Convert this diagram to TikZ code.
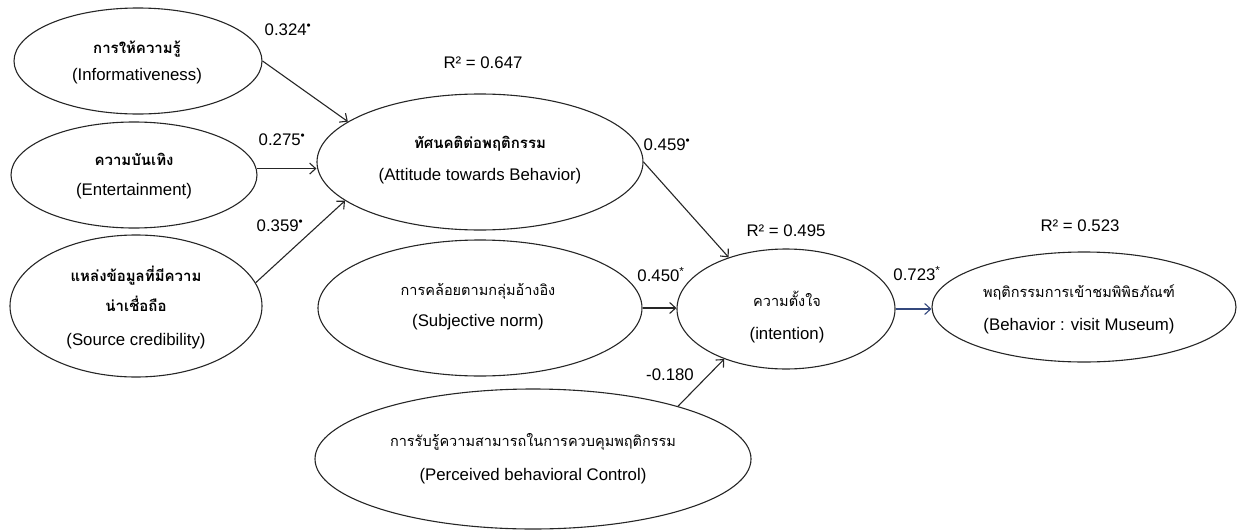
\documentclass[tikz,border=0pt]{standalone}
\usepackage{fontspec}
\setmainfont{Liberation Sans}
\newfontfamily\thaifont[Script=Thai]{Loma}
\usetikzlibrary{shapes.geometric,arrows.meta}
\definecolor{navy}{RGB}{52,72,125}
\begin{document}
\begin{tikzpicture}[x=1pt,y=-1pt,
  ell/.style={ellipse,draw=black!85,line width=1.1pt,inner sep=0pt},
  arr/.style={-{Straight Barb[length=6pt,width=11pt,line width=1.1pt]},line width=1.1pt,draw=black!85},
  txt/.style={inner sep=0pt,text height=11pt,text depth=4pt},
  en/.style={txt,font=\fontsize{16.8}{19}\selectfont},
  th/.style={txt,font=\fontsize{14.5}{18}\selectfont\thaifont},
  thb/.style={txt,font=\fontsize{15}{18}\selectfont\thaifont\bfseries},
  lab/.style={txt,font=\fontsize{16.8}{19}\selectfont}]
\useasboundingbox (0,0) rectangle (1237,530);

% ellipses
\node[ell,minimum width=248pt,minimum height=106pt] (info) at (138,61) {};
\node[ell,minimum width=246pt,minimum height=106pt] (ent) at (134,175) {};
\node[ell,minimum width=252pt,minimum height=142pt] (src) at (136,306) {};
\node[ell,minimum width=326pt,minimum height=136pt] (att) at (480,162) {};
\node[ell,minimum width=324pt,minimum height=136pt] (sub) at (480,308) {};
\node[ell,minimum width=436pt,minimum height=140pt] (pbc) at (533,459) {};
\node[ell,minimum width=218pt,minimum height=120pt] (int) at (786,309) {};
\node[ell,minimum width=304pt,minimum height=110pt] (beh) at (1084,307) {};

% texts
\node[thb] (infoT) at (137,50) {การให้ความรู้};
\node[en] (infoE) at (137,77) {(Informativeness)};
\node[thb] (entT) at (134,162) {ความบันเทิง};
\node[en] (entE) at (134,192) {(Entertainment)};
\node[thb] (srcT1) at (136,278) {แหล่งข้อมูลที่มีความ};
\node[thb] (srcT2) at (136,308) {น่าเชื่อถือ};
\node[en] (srcE) at (136,342) {(Source credibility)};
\node[thb] (attT) at (480,145) {ทัศนคติต่อพฤติกรรม};
\node[en] (attE) at (480,177) {(Attitude towards Behavior)};
\node[th] (subT) at (478,292) {การคล้อยตามกลุ่มอ้างอิง};
\node[en] (subE) at (478,323) {(Subjective norm)};
\node[th] (pbcT) at (533,443) {การรับรู้ความสามารถในการควบคุมพฤติกรรม};
\node[en] (pbcE) at (533,477) {(Perceived behavioral Control)};
\node[th] (intT) at (787,303) {ความตั้งใจ};
\node[en] (intE) at (787,336) {(intention)};
\node[th] (behT) at (1079,294) {พฤติกรรมการเข้าชมพิพิธภัณฑ์};
\node[en] (behE) at (1079,327) {(Behavior : visit Museum)};

% labels
\node[lab] (l1) at (288,32) {0.324\textsuperscript{•}};
\node[lab] (l2) at (282,142) {0.275\textsuperscript{•}};
\node[lab] (l3) at (280,228) {0.359\textsuperscript{•}};
\node[lab] (r1) at (483,65) {R² = 0.647};
\node[lab] (l4) at (667,147) {0.459\textsuperscript{•}};
\node[lab] (r2) at (786,233) {R² = 0.495};
\node[lab] (r3) at (1080,228) {R² = 0.523};
\node[lab] (l5) at (661,278) {0.450\textsuperscript{*}};
\node[lab] (l6) at (917,277) {0.723\textsuperscript{*}};
\node[lab] (l7) at (670,377) {-0.180};

% connectors
\draw[arr] (info.east) -- (att.163);
\draw[arr] (ent.3) -- (att.west |- ent.3);
\draw[arr] (src.11) -- (att.196);
\draw[arr] (att.east) -- (int.138);
\draw[arr] (sub.east) -- (int.west |- sub.east);
\draw[arr] (pbc.20) -- (int.219);
\draw[arr,draw=navy] (int.east) -- (beh.west |- int.east);
\end{tikzpicture}
\end{document}
